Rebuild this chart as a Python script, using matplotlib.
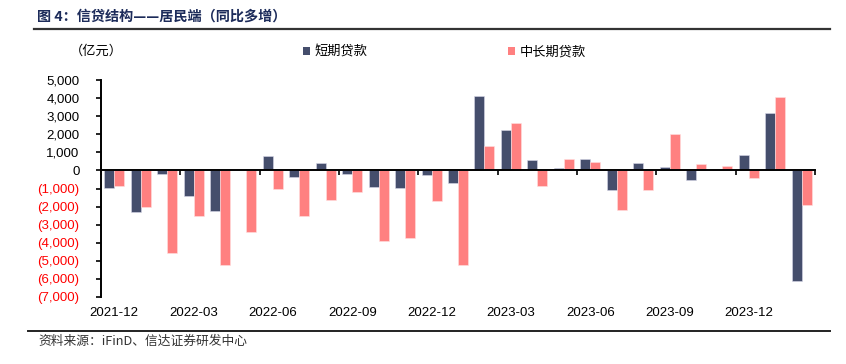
import matplotlib
matplotlib.use("Agg")
import matplotlib.pyplot as plt
import numpy as np
from matplotlib.ticker import FixedLocator, FuncFormatter
from matplotlib.lines import Line2D
from matplotlib.patches import Patch

plt.rcParams['font.family'] = ['Liberation Sans', 'Noto Sans CJK SC', 'DejaVu Sans']
CJK = ['Noto Sans CJK SC', 'DejaVu Sans']

months = ['2021-12', '2022-01', '2022-02', '2022-03', '2022-04', '2022-05', '2022-06',
          '2022-07', '2022-08', '2022-09', '2022-10', '2022-11', '2022-12', '2023-01',
          '2023-02', '2023-03', '2023-04', '2023-05', '2023-06', '2023-07', '2023-08',
          '2023-09', '2023-10', '2023-11', '2023-12', '2024-01', '2024-02']
short_term = [-980, -2290, -220, -1400, -2240, 0, 780, -370, 425, -185, -940, -980, -280,
              -670, 4140, 2255, 590, 150, 630, -1070, 390, 185, -555, 75, 870, 3180, -6100]
long_term = [-850, -2030, -4580, -2510, -5250, -3380, -1000, -2510, -1610, -1220, -3900,
             -3730, -1710, -5210, 1330, 2625, -850, 650, 480, -2180, -1070, 2030, 370, 220,
             -400, 4050, -1900]
series_names = ['短期贷款', '中长期贷款']
title = '图 4：信贷结构——居民端（同比多增）'
unit = '（亿元）'
source = '资料来源：iFinD、信达证券研发中心'
yticks = list(range(-7000, 5001, 1000))

NAVY = '#454e6c'
PINK = '#ff8080'

W, H = 846, 364
fig = plt.figure(figsize=(W / 100, H / 100), dpi=100)
ax = fig.add_axes([101 / W, 1 - 297 / H, (815 - 101) / W, (297 - 80) / H])

x = np.arange(len(months))
bw = 0.38
b1 = ax.bar(x - bw / 2, short_term, width=bw, color=NAVY, edgecolor='#d8d8e8', linewidth=0.4)
b2 = ax.bar(x + bw / 2, long_term, width=bw, color=PINK, edgecolor='#ffe0e0', linewidth=0.4)

ax.set_xlim(-0.5, len(months) - 0.5)
ax.set_ylim(-7000, 5000)

for s in ['top', 'right']:
    ax.spines[s].set_visible(False)
ax.spines['bottom'].set_position(('data', 0))
ax.spines['bottom'].set_linewidth(1.4)
ax.spines['left'].set_linewidth(1.4)

# x ticks at group boundaries every 3 months
ax.xaxis.set_major_locator(FixedLocator(np.arange(-0.5, len(months), 3)))
ax.tick_params(axis='x', direction='out', length=3.5, width=1.2, labelbottom=False)
for i in range(0, len(months), 3):
    ax.text(i, -0.075, months[i], transform=ax.get_xaxis_transform(), ha='center',
            va='center', fontsize=9.5, color='black')

ax.set_yticks(yticks)
ax.yaxis.set_major_formatter(FuncFormatter(
    lambda v, p: f'{int(v):,}' if v >= 0 else f'({int(-v):,})'))
ax.tick_params(axis='y', direction='out', length=3.5, width=1.2, pad=12, labelsize=9.5)
for lab, v in zip(ax.get_yticklabels(), yticks):
    lab.set_color('red' if v < 0 else 'black')

# legend
handles = [Patch(facecolor=NAVY, edgecolor='none'), Patch(facecolor=PINK, edgecolor='none')]
fig.legend(handles, series_names, loc='center left', bbox_to_anchor=(303 / W, 1 - 52 / H),
           ncol=2, frameon=False, prop={'family': CJK, 'size': 9.5}, handlelength=0.55,
           handleheight=0.55, handletextpad=0.35, columnspacing=10.6, borderpad=0,
           borderaxespad=0)

fig.text(70 / W, 1 - 51 / H, unit, fontsize=9.5, family=CJK, va='center', ha='left')

# title and rules
fig.text(37 / W, 1 - 17 / H, title, fontsize=10.2, fontweight='bold', family=CJK,
         color='#1c2b5a', va='center', ha='left')
fig.add_artist(Line2D([34 / W, 830 / W], [1 - 29 / H, 1 - 29 / H], color='#333333', lw=1.6))
fig.add_artist(Line2D([28 / W, 830 / W], [1 - 331 / H, 1 - 331 / H], color='#222222', lw=1.4))
fig.text(38 / W, 1 - 341 / H, source, fontsize=9.2, family=CJK, style='italic',
         color='#333333', va='center', ha='left')

fig.savefig('out.png', dpi=100)
